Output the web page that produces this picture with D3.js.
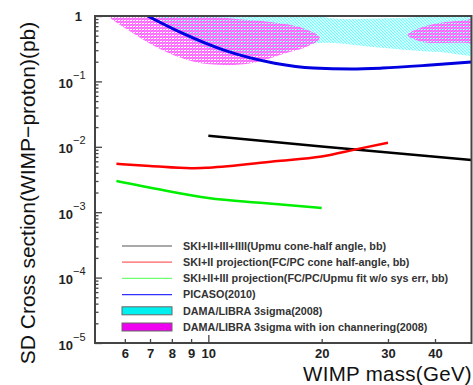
<!DOCTYPE html>
<html>
<head>
<meta charset="utf-8">
<script src="https://cdn.jsdelivr.net/npm/d3@7"></script>
<style>
  body { margin: 0; background: #fff; }
  svg { display: block; font-family: "Liberation Sans", Arial, sans-serif; }
</style>
</head>
<body>
<svg id="chart" width="473" height="385"></svg>
<script>
// --- data (mass in GeV, cross section in pb) ---
const massTicks = [6, 7, 8, 9, 10, 20, 30, 40];
const decadeTicks = [1, 1e-1, 1e-2, 1e-3, 1e-4, 1e-5];
const decadeExp = ["", "\u22121", "\u22122", "\u22123", "\u22124", "\u22125"];

const skUpmu = [[10, 0.0147], [20, 0.0101], [50, 0.0063]];
const skFcpc = [[5.7, 0.0055], [7, 0.0051], [9, 0.0047], [10, 0.0048], [15, 0.0060],
                [20, 0.0071], [25, 0.0093], [30, 0.0115]];
const skUpmuFit = [[5.7, 0.0030], [7.5, 0.0022], [10, 0.00165], [14, 0.00138], [20, 0.00116]];
const picasso = [[6.5, 1.2], [6.9, 1.0], [8.5, 0.55], [11, 0.30], [15, 0.19], [19, 0.16],
                 [24, 0.155], [29, 0.16], [39, 0.178], [50, 0.198]];

const damaCyan = [[7.0, 1.32], [7.67, 0.81], [9.5, 0.36], [12.1, 0.253], [15.5, 0.281],
                  [19.8, 0.387], [27.3, 0.336], [33.6, 0.302], [41.1, 0.281], [52.5, 0.272],
                  [52.5, 0.90], [32.2, 0.932], [21.0, 0.932], [17.5, 1.23]];
const damaChan1 = [[5.22, 1.32], [5.41, 1.0], [6.12, 0.611], [7.53, 0.302], [9.21, 0.198],
                   [11.06, 0.178], [13.1, 0.191], [16.1, 0.272], [18.2, 0.336], [19.8, 0.461],
                   [17.8, 0.656], [14.6, 0.81], [11.9, 0.90], [10.1, 1.0], [8.93, 1.23]];
const damaChan2 = [[33.8, 0.512], [37.1, 0.679], [41.1, 0.782], [48.5, 0.869], [52.5, 0.93],
                   [52.5, 0.373], [48.5, 0.387], [41.1, 0.387], [37.1, 0.40]];

const legendItems = [
  {label: "SKI+II+III+IIII(Upmu cone-half angle, bb)", type: "line", color: "#555"},
  {label: "SKI+II projection(FC/PC cone half-angle, bb)", type: "line", color: "#ff6060"},
  {label: "SKI+II+III projection(FC/PC/Upmu fit w/o sys err, bb)", type: "line", color: "#70ff70"},
  {label: "PICASO(2010)", type: "line", color: "#3030ff"},
  {label: "DAMA/LIBRA 3sigma(2008)", type: "box", color: "#00f0f0"},
  {label: "DAMA/LIBRA 3sigma with ion channering(2008)", type: "box", color: "#f000f0"}
];

// --- layout ---
const svg = d3.select("#chart");
const plotL = 95, plotR = 471.5, plotT = 16, plotB = 343;

const x = d3.scaleLog().domain([5, 50]).range([plotL, plotR]);
const y = d3.scaleLog().domain([1e-5, 1]).range([plotB, plotT]);

const defs = svg.append("defs");
defs.append("clipPath").attr("id", "plotClip")
  .append("rect").attr("x", plotL).attr("y", plotT)
  .attr("width", plotR - plotL).attr("height", plotB - plotT);

// hatch patterns for the DAMA regions
const pc = defs.append("pattern").attr("id", "hatchCyan")
  .attr("patternUnits", "userSpaceOnUse").attr("width", 3).attr("height", 3);
pc.append("path").attr("d", "M-1,-1 L4,4 M-1,2 L1,4 M2,-1 L4,1")
  .attr("stroke", "#66ffff").attr("stroke-width", 1.2);

const pm = defs.append("pattern").attr("id", "hatchMag")
  .attr("patternUnits", "userSpaceOnUse").attr("width", 3).attr("height", 3);
pm.append("rect").attr("width", 3).attr("height", 2).attr("fill", "#ff70ff");
pm.append("path").attr("d", "M0,3 L3,0").attr("stroke", "#ff40ff").attr("stroke-width", 0.8);

const plot = svg.append("g").attr("clip-path", "url(#plotClip)");

const area = d3.line().x(d => x(d[0])).y(d => y(d[1])).curve(d3.curveCatmullRomClosed.alpha(0.5));
const line = d3.line().x(d => x(d[0])).y(d => y(d[1])).curve(d3.curveMonotoneX);

plot.append("path").datum(damaCyan).attr("d", area).attr("fill", "url(#hatchCyan)");
plot.append("path").datum(damaChan1).attr("d", area).attr("fill", "url(#hatchMag)").attr("opacity", 0.9);
plot.append("path").datum(damaChan2).attr("d", area).attr("fill", "url(#hatchMag)").attr("opacity", 0.9);

const series = [
  {data: picasso, color: "#0000e0", width: 3},
  {data: skUpmu, color: "#000", width: 2.5},
  {data: skFcpc, color: "#ff0000", width: 2.5},
  {data: skUpmuFit, color: "#00ee00", width: 2.5}
];
plot.selectAll("path.curve").data(series).enter().append("path")
  .attr("class", "curve")
  .attr("d", d => line(d.data))
  .attr("fill", "none")
  .attr("stroke", d => d.color)
  .attr("stroke-width", d => d.width);

// --- axes ---
const axisColor = "#444";
const minorY = [];
for (let e = -5; e < 0; e++) for (let k = 2; k <= 9; k++) minorY.push(k * Math.pow(10, e));

const yMinor = svg.append("g").attr("transform", `translate(${plotL},0)`)
  .call(d3.axisLeft(y).tickValues(minorY).tickSize(-3.5).tickFormat(""));
const yMajor = svg.append("g").attr("transform", `translate(${plotL},0)`)
  .call(d3.axisLeft(y).tickValues(decadeTicks).tickSize(-7).tickPadding(22).tickFormat(""));

const xAxis = svg.append("g").attr("transform", `translate(0,${plotB})`)
  .call(d3.axisBottom(x).tickValues(massTicks).tickSize(-4).tickFormat(d3.format("d")).tickPadding(6));
xAxis.selectAll(".tick line").filter(d => d === 10).attr("y2", -8);

[yMinor, yMajor, xAxis].forEach(g => {
  g.select(".domain").remove();
  g.selectAll(".tick line").attr("stroke", axisColor).attr("stroke-width", 1.3);
});
xAxis.selectAll("text").attr("font-size", 13).attr("font-weight", "bold").attr("fill", "#222");

// y tick labels: 10 with superscript exponent
yMajor.selectAll(".tick").each(function(d, i) {
  const t = d3.select(this);
  if (i === 0) {
    t.append("text").attr("x", -13).attr("y", 4).attr("text-anchor", "end")
      .attr("font-size", 13).attr("font-weight", "bold").attr("fill", "#222").text("1");
  } else {
    t.append("text").attr("x", -22).attr("y", 6).attr("text-anchor", "end")
      .attr("font-size", 13).attr("font-weight", "bold").attr("fill", "#222").text("10");
    t.append("text").attr("x", -22).attr("y", -3).attr("text-anchor", "start")
      .attr("font-size", 11).attr("fill", "#222").text(decadeExp[i]);
  }
});

// frame
svg.append("rect").attr("x", plotL).attr("y", plotT)
  .attr("width", plotR - plotL).attr("height", plotB - plotT)
  .attr("fill", "none").attr("stroke", axisColor).attr("stroke-width", 2);

// axis titles
svg.append("text").attr("x", 472).attr("y", 380.5).attr("text-anchor", "end")
  .attr("font-size", 20.5).attr("letter-spacing", 0.3).attr("fill", "#111").text("WIMP mass(GeV)");
svg.append("text").attr("transform", "translate(35,193) rotate(-90)")
  .attr("text-anchor", "middle").attr("font-size", 21).attr("fill", "#111")
  .text("SD Cross section(WIMP\u2212proton)(pb)");

// --- legend ---
const leg = svg.append("g");
const legRows = leg.selectAll("g").data(legendItems).enter().append("g")
  .attr("transform", (d, i) => `translate(122,${246 + i * 16.2})`);
legRows.filter(d => d.type === "line").append("line")
  .attr("x1", 0).attr("x2", 50).attr("stroke", d => d.color).attr("stroke-width", 1.2);
legRows.filter(d => d.type === "box").append("rect")
  .attr("x", 0).attr("y", -4).attr("width", 50).attr("height", 8)
  .attr("fill", d => d.color).attr("stroke", "#666").attr("stroke-width", 1);
legRows.append("text").attr("x", 61).attr("y", 3.8)
  .attr("font-size", 10.8).attr("font-weight", "bold").attr("fill", "#333")
  .text(d => d.label);
</script>
</body>
</html>
